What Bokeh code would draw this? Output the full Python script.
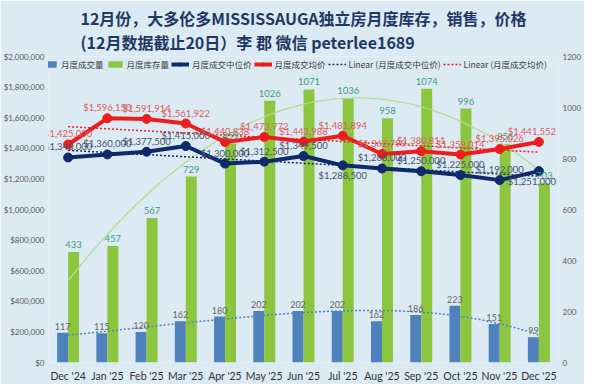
import numpy as np
from bokeh.plotting import figure
from bokeh.models import (Range1d, LinearAxis, NumeralTickFormatter, FixedTicker,
                          Legend, LegendItem)
from bokeh.core.properties import value
from bokeh.embed import file_html
from bokeh.resources import INLINE

# ---------------- data ----------------
months = ["Dec '24", "Jan '25", "Feb '25", "Mar '25", "Apr '25", "May '25", "Jun '25",
          "Jul '25", "Aug '25", "Sep '25", "Oct '25", "Nov '25", "Dec '25"]
sales = [117, 115, 120, 162, 180, 202, 202, 202, 162, 186, 223, 151, 99]
inventory = [433, 457, 567, 729, 859, 1026, 1071, 1036, 958, 1074, 996, 856, 703]
median_price = [1340000, 1360000, 1377500, 1415000, 1300000, 1312500, 1349500,
                1288500, 1268000, 1250000, 1225000, 1192000, 1251000]
avg_price = [1425000, 1596150, 1591914, 1561922, 1440838, 1473772, 1443988,
             1481894, 1362799, 1380811, 1359014, 1395026, 1441552]

title_text = "12月份，大多伦多MISSISSAUGA独立房月度库存，销售，价格\n(12月数据截止20日）李 郡 微信 peterlee1689"
legend_labels = ["月度成交量", "月度库存量", "月度成交中位价", "月度成交均价",
                 "Linear (月度成交中位价)", "Linear (月度成交均价)"]

# ---------------- styles ----------------
BG = "#dceaf4"
BLUE = "#4f81bd"
GREEN = "#8cc63f"
NAVY = "#0f2a6b"
RED = "#ee1c1c"
RED_LBL = "#e05a5a"
MED_LBL = "#44546a"
INV_LBL = "#3c9e78"
SALES_LBL = "#666666"
CJK = "Noto Sans CJK SC"
NUM = "Lato"

n = len(months)
x = np.arange(n)
xs = np.linspace(0, n - 1, 200)

p = figure(width=584, height=384, output_backend="svg", toolbar_location=None,
           x_range=Range1d(-0.5, n - 0.5), y_range=Range1d(0, 2000000),
           min_border_left=45, min_border_right=0, min_border_bottom=0, min_border_top=0,
           background_fill_color=BG, border_fill_color=BG, outline_line_color=None,
           title=title_text)
p.extra_y_ranges = {"inv": Range1d(0, 1200)}

t = p.title
t.align = "center"
t.text_font = CJK
t.text_font_size = "16px"
t.text_font_style = "bold"
t.text_color = "#1f3864"
t.text_line_height = 1.0
t.standoff = 6

p.grid.visible = False

# bars
r_sales = p.vbar(x=x - 0.14, top=sales, width=0.28, y_range_name="inv",
                 fill_color=BLUE, line_color=None)
r_inv = p.vbar(x=x + 0.14, top=inventory, width=0.28, y_range_name="inv",
               fill_color=GREEN, line_color=None)

# polynomial trendlines (regressions of the data, as in the source chart)
inv_fit = np.polyval(np.polyfit(x, inventory, 2), xs)
sales_fit = np.polyval(np.polyfit(x, sales, 4), xs)
p.line(xs, inv_fit, y_range_name="inv", line_color="#b7d98f", line_width=1.2)
p.line(xs, sales_fit, y_range_name="inv", line_color=BLUE, line_width=1.5, line_dash="2 2")

# linear trendlines of prices
med_lin = np.polyval(np.polyfit(x, median_price, 1), x)
avg_lin = np.polyval(np.polyfit(x, avg_price, 1), x)
r_med_lin = p.line(x, med_lin, line_color=NAVY, line_width=1.5, line_dash="2 2")
r_avg_lin = p.line(x, avg_lin, line_color=RED, line_width=1.5, line_dash="2 2")

# price lines
r_med = p.line(x, median_price, line_color=NAVY, line_width=4)
r_med_m = p.scatter(x, median_price, size=9, fill_color=NAVY, line_color=NAVY)
r_avg = p.line(x, avg_price, line_color=RED, line_width=4)
r_avg_m = p.scatter(x, avg_price, size=9, fill_color=RED, line_color=RED)

# labels
def money(v):
    return "${:,.0f}".format(v)

edge_shift = [0] * (n - 1) + [-7]   # keep last labels inside the plot area

p.text(x=x - 0.14, y=sales, text=[str(v) for v in sales], y_range_name="inv",
       text_align="center", text_baseline="bottom", y_offset=-3,
       text_font=value(NUM), text_font_size="9px", text_color=SALES_LBL)
p.text(x=x + 0.14, y=inventory, text=[str(v) for v in inventory], y_range_name="inv",
       text_align="center", text_baseline="bottom", y_offset=-4,
       text_font=value(NUM), text_font_size="9.5px", text_color=INV_LBL)

below = {7, 12}
med_up = [i for i in range(n) if i not in below]
med_dn = [i for i in range(n) if i in below]
p.text(x=[x[i] for i in med_up], y=[median_price[i] for i in med_up],
       text=[money(median_price[i]) for i in med_up],
       x_offset=[edge_shift[i] for i in med_up],
       text_align="center", text_baseline="bottom", y_offset=-5,
       text_font=value(NUM), text_font_size="9.5px", text_color=MED_LBL)
p.text(x=[x[i] for i in med_dn], y=[median_price[i] for i in med_dn],
       text=[money(median_price[i]) for i in med_dn],
       x_offset=[edge_shift[i] for i in med_dn],
       text_align="center", text_baseline="top", y_offset=5,
       text_font=value(NUM), text_font_size="9.5px", text_color=MED_LBL)
p.text(x=x, y=avg_price, text=[money(v) for v in avg_price], x_offset=edge_shift,
       text_align="center", text_baseline="bottom", y_offset=-5,
       text_font=value(NUM), text_font_size="9.5px", text_color=RED_LBL)

# axes
p.yaxis.ticker = FixedTicker(ticks=list(range(0, 2000001, 200000)))
p.yaxis.formatter = NumeralTickFormatter(format="$0,0")
ax_r = LinearAxis(y_range_name="inv", ticker=FixedTicker(ticks=list(range(0, 1201, 200))))
p.add_layout(ax_r, "right")
p.xaxis.ticker = FixedTicker(ticks=list(x))
p.xaxis.major_label_overrides = {int(i): m for i, m in zip(x, months)}

for ax in [p.yaxis[0], ax_r, p.xaxis[0]]:
    ax.axis_label = None
    ax.axis_line_color = None
    ax.major_tick_line_color = None
    ax.minor_tick_line_color = None
    ax.major_tick_out = 0
    ax.major_tick_in = 0
    ax.minor_tick_out = 0
    ax.minor_tick_in = 0
    ax.axis_label_standoff = 0
    ax.major_label_text_font = NUM
for ax in [p.yaxis[0], ax_r]:
    ax.major_label_text_font_size = "8px"
    ax.major_label_text_color = "#595959"
    ax.major_label_standoff = 4
xa = p.xaxis[0]
xa.major_label_text_font_size = "10.5px"
xa.major_label_text_color = "#333333"
xa.major_label_standoff = 7

# legend
legend = Legend(items=[
    LegendItem(label=legend_labels[0], renderers=[r_sales]),
    LegendItem(label=legend_labels[1], renderers=[r_inv]),
    LegendItem(label=legend_labels[2], renderers=[r_med, r_med_m]),
    LegendItem(label=legend_labels[3], renderers=[r_avg, r_avg_m]),
    LegendItem(label=legend_labels[4], renderers=[r_med_lin]),
    LegendItem(label=legend_labels[5], renderers=[r_avg_lin]),
], orientation="horizontal", location=(-8, 292))
legend.label_text_font = CJK
legend.label_text_font_size = "8.5px"
legend.label_text_color = "#404040"
legend.glyph_width = 18
legend.glyph_height = 8
legend.label_standoff = 3
legend.spacing = 2
legend.padding = 2
legend.margin = 0
legend.border_line_color = None
legend.background_fill_alpha = 0
legend.label_height = 13
p.add_layout(legend, "center")

html = file_html(p, INLINE)
html = html.replace("<body>", '<body style="background-color:%s; overflow:hidden;">' % BG, 1)
open("out.html", "w").write(html)
